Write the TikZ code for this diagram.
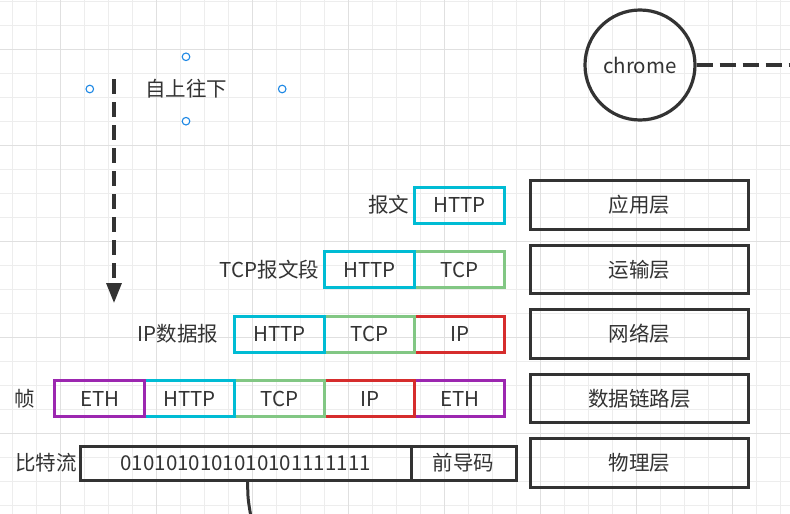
\documentclass[tikz,border=0pt]{standalone}
\usepackage{fontspec}
\setmainfont{Noto Sans CJK SC}
\usepackage{tikz}
\usetikzlibrary{positioning,arrows.meta,shapes}
\definecolor{httpc}{RGB}{0,188,212}
\definecolor{tcpc}{RGB}{130,199,132}
\definecolor{ipc}{RGB}{214,45,45}
\definecolor{ethc}{RGB}{156,39,176}
\definecolor{linec}{RGB}{51,51,51}
\definecolor{handlec}{RGB}{30,136,229}

\begin{document}
\begin{tikzpicture}
            [x=1pt, y=-1pt, font=\fontsize{20.5}{24}\selectfont, text=linec,
            pkt/.style={minimum width=90pt, minimum height=36pt, inner sep=0pt, outer sep=0pt, draw, line width=3pt, text=linec},
            layer/.style={minimum width=218pt, minimum height=48.5pt, inner sep=0pt, outer sep=0pt, draw=linec, line width=3pt},
            gridminor/.style={draw=black!7, line width=0.8pt},
            gridmajor/.style={draw=black!12, line width=0.9pt}]
            \useasboundingbox (0,0) rectangle (790,514);
            % background grid
            \begin{scope}
                \clip (0,0) rectangle (790,514);
                \fill[white] (0,0) rectangle (790,514);
                \foreach \i in {0,...,32}
                    \draw[gridminor] (12.5+24*\i,0) -- ++(0,514);
                \foreach \j in {0,...,21}
                    \draw[gridminor] (0,1.3+24*\j) -- ++(790,0);
                \foreach \i in {0,...,7}
                    \draw[gridmajor] (60.5+96*\i,0) -- ++(0,514);
                \foreach \j in {0,...,4}
                    \draw[gridmajor] (0,49.3+96*\j) -- ++(790,0);
            \end{scope}
            % layers
            \node [layer] (app) at (639.7,205) {应用层};
            \node [layer, below=16pt of app] (trans) {运输层};
            \node [layer, below=16pt of trans] (net) {网络层};
            \node [layer, below=16pt of net] (link) {数据链路层};
            \node [layer, below=16pt of link] (phy) {物理层};
            % packets
            \node [pkt, draw=httpc, left=26pt of app] (http1) {HTTP};
            \node [left=2pt of http1] (msg) {报文};
            \node [pkt, draw=tcpc, left=26pt of trans] (tcp2) {TCP};
            \node [pkt, draw=httpc, left=0pt of tcp2] (http2) {HTTP};
            \node [left=2pt of http2] (seg) {TCP报文段};
            \node [pkt, draw=ipc, left=26pt of net] (ip3) {IP};
            \node [pkt, draw=tcpc, left=0pt of ip3] (tcp3) {TCP};
            \node [pkt, draw=httpc, left=0pt of tcp3] (http3) {HTTP};
            \node [left=13pt of http3] (dgram) {IP数据报};
            \node [pkt, draw=ethc, left=26pt of link] (eth4b) {ETH};
            \node [pkt, draw=ipc, left=0pt of eth4b] (ip4) {IP};
            \node [pkt, draw=tcpc, left=0pt of ip4] (tcp4) {TCP};
            \node [pkt, draw=httpc, left=0pt of tcp4] (http4) {HTTP};
            \node [pkt, draw=ethc, left=0pt of http4] (eth4a) {ETH};
            \node [left=16pt of eth4a] (frame) {帧};
            \node [pkt, draw=linec, minimum width=105pt, minimum height=34pt, left=14.5pt of phy] (pre) {前导码};
            \node [pkt, draw=linec, minimum width=331pt, minimum height=34pt, left=0pt of pre] (bits) {0101010101010101111111};
            \node [left=0pt of bits] (stream) {比特流};
            % top: direction and chrome
            \node [minimum width=192pt, minimum height=64pt, inner sep=0pt] (dir) at (186,89) {自上往下};
            \foreach \p in {north,south,east,west}
                \draw [handlec, line width=1.1pt, fill=white] (dir.\p) circle (3.8pt);
            \coordinate (arrtop) at (114,79);
            \coordinate (arrbot) at (114,303);
            \draw [linec, line width=3.2pt, dash pattern=on 15pt off 8pt, -{Triangle[length=20pt,width=15pt]}] (arrtop) -- (arrbot);
            \node [circle, draw=linec, line width=3.2pt, minimum size=110pt, inner sep=0pt] (chrome) at (640,65) {chrome};
            \coordinate (edge) at (792,65);
            \draw [linec, line width=3.2pt, dash pattern=on 16pt off 7pt] (chrome.east) -- (edge);
            \coordinate (below) at (251.5,520);
            \draw [linec, line width=3pt] ([xshift=2pt]bits.south) .. controls +(0,18) .. (below);
\end{tikzpicture}
\end{document}
